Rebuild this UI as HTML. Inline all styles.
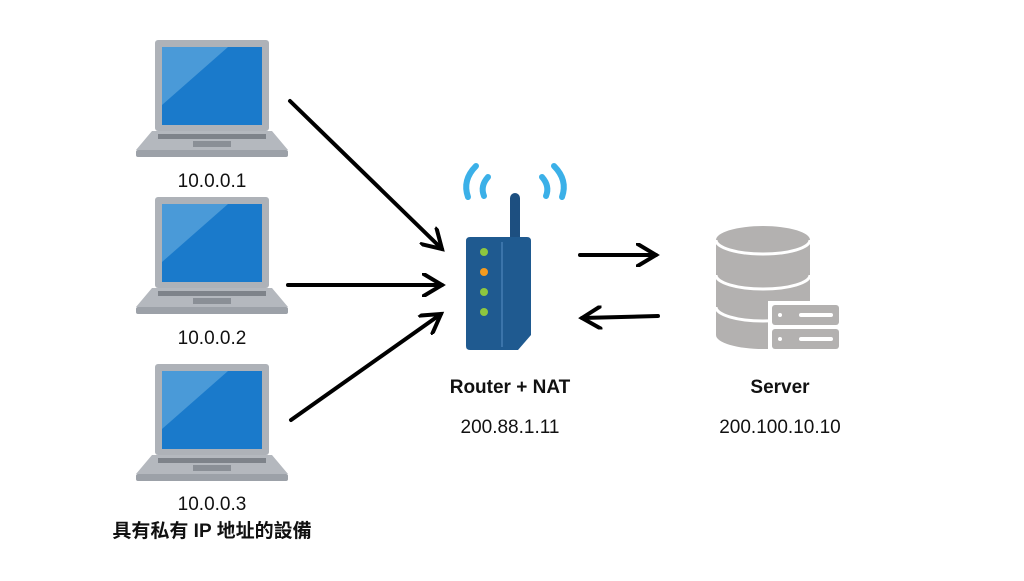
<!DOCTYPE html>
<html><head><meta charset="utf-8"><style>
body{margin:0;width:1024px;height:576px;background:#fff;overflow:hidden}
text{font-family:"Liberation Sans","Noto Sans CJK TC",sans-serif;fill:#111}
</style></head><body>
<svg width="1024" height="576" viewBox="0 0 1024 576">
<defs>
<g id="lap">
<rect x="155" y="40" width="114" height="91" rx="3" fill="#aeb2b8"/>
<rect x="162" y="47" width="100" height="78" fill="#1a7acb"/>
<polygon points="162,47 228,47 162,105" fill="#4a9ad8"/>
<polygon points="152,131 272,131 288,150 136,150" fill="#b4b8be"/>
<rect x="158" y="134" width="108" height="5" fill="#7e838a"/>
<rect x="193" y="141" width="38" height="6" fill="#8a8f96"/>
<rect x="136" y="150" width="152" height="7" rx="2" fill="#9ca1a8"/>
</g>
<marker id="ah" markerWidth="6" markerHeight="6" refX="5" refY="3" orient="auto" markerUnits="strokeWidth"><path d="M0,0 L5,3 L0,6" fill="none" stroke="#000" stroke-width="1"/></marker>
</defs>
<use href="#lap"/>
<use href="#lap" y="157"/>
<use href="#lap" y="324"/>
<g font-size="19" text-anchor="middle">
<text x="212" y="187">10.0.0.1</text>
<text x="212" y="344">10.0.0.2</text>
<text x="212" y="510">10.0.0.3</text>
</g>
<text x="212" y="537" font-size="19" font-weight="bold" text-anchor="middle">具有私有 IP 地址的設備</text>
<g stroke="#000" stroke-width="4" fill="none" stroke-linecap="round">
<line x1="290" y1="101" x2="442" y2="249" marker-end="url(#ah)"/>
<line x1="288" y1="285" x2="442" y2="285" marker-end="url(#ah)"/>
<line x1="291" y1="420" x2="441" y2="314" marker-end="url(#ah)"/>
<line x1="580" y1="255" x2="656" y2="255" marker-end="url(#ah)"/>
<line x1="658" y1="316" x2="582" y2="318" marker-end="url(#ah)"/>
</g>
<!-- router -->
<g fill="none" stroke="#3bb0e8" stroke-width="6" stroke-linecap="round">
<path d="M476,166 Q462,180 468,197"/>
<path d="M488,177 Q480,186 484,196"/>
<path d="M554,166 Q568,180 562,197"/>
<path d="M542,177 Q550,186 546,196"/>
</g>
<rect x="510" y="193" width="10" height="50" rx="5" fill="#1d4f80"/>
<path d="M470,237 L527,237 Q531,237 531,241 L531,335 L518,350 L470,350 Q466,350 466,346 L466,241 Q466,237 470,237Z" fill="#1f5a90"/>
<line x1="502" y1="242" x2="502" y2="347" stroke="#3b74aa" stroke-width="2"/>
<circle cx="484" cy="252" r="4" fill="#8dc63f"/>
<circle cx="484" cy="272" r="4" fill="#f39a1e"/>
<circle cx="484" cy="292" r="4" fill="#8dc63f"/>
<circle cx="484" cy="312" r="4" fill="#8dc63f"/>
<text x="510" y="393" font-size="19" font-weight="bold" text-anchor="middle">Router + NAT</text>
<text x="510" y="433" font-size="19" text-anchor="middle">200.88.1.11</text>
<!-- server -->
<g fill="#b3b1b0">
<path d="M716,240 A47,14 0 0 1 810,240 L810,335 A47,14 0 0 1 716,335Z"/>
</g>
<g fill="none" stroke="#fff" stroke-width="3">
<path d="M716,240 A47,14 0 0 0 810,240"/>
<path d="M716,275 A47,14 0 0 0 810,275"/>
<path d="M716,307 A47,14 0 0 0 810,307"/>
</g>
<rect x="768" y="301" width="74" height="52" fill="#fff"/>
<rect x="772" y="305" width="67" height="20" rx="3" fill="#b3b1b0"/>
<rect x="772" y="329" width="67" height="20" rx="3" fill="#b3b1b0"/>
<g fill="#fff"><circle cx="780" cy="315" r="2"/><circle cx="780" cy="339" r="2"/>
<rect x="799" y="313" width="34" height="4" rx="2"/><rect x="799" y="337" width="34" height="4" rx="2"/></g>
<text x="780" y="393" font-size="19" font-weight="bold" text-anchor="middle">Server</text>
<text x="780" y="433" font-size="19" text-anchor="middle">200.100.10.10</text>
</svg>
</body></html>
